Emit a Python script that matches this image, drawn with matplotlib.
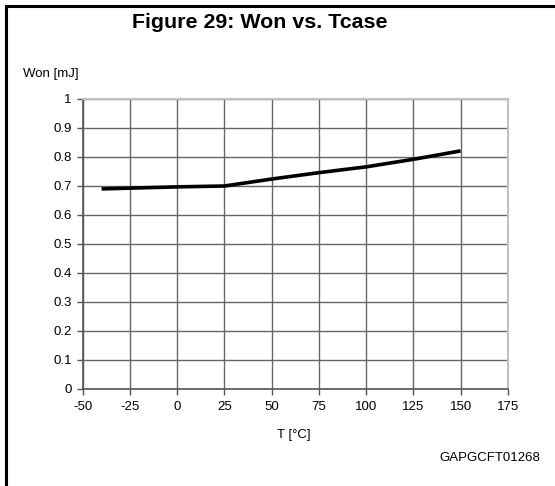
import matplotlib.pyplot as plt
from matplotlib.lines import Line2D

plt.rcParams['font.family'] = ['Liberation Sans', 'DejaVu Sans']

# Data
temp_c = [-40, 0, 25, 50, 75, 100, 125, 150]
won_mj = [0.690, 0.697, 0.700, 0.724, 0.746, 0.766, 0.792, 0.821]

x_ticks = [-50, -25, 0, 25, 50, 75, 100, 125, 150, 175]
y_ticks = [0, 0.1, 0.2, 0.3, 0.4, 0.5, 0.6, 0.7, 0.8, 0.9, 1]

fig = plt.figure(figsize=(5.55, 4.86), dpi=100)
ax = fig.add_axes([0.149, 0.1996, 0.766, 0.5967])

ax.plot(temp_c, won_mj, color='black', linewidth=2.6, solid_capstyle='butt', zorder=3)

ax.set_xlim(-50, 175)
ax.set_ylim(0, 1)
ax.set_xticks(x_ticks)
ax.set_xticklabels([str(v) for v in x_ticks])
ax.set_yticks(y_ticks)
ax.set_yticklabels(['0', '0.1', '0.2', '0.3', '0.4', '0.5', '0.6', '0.7', '0.8', '0.9', '1'])
ax.tick_params(direction='out', length=4, width=1, color='#555555', labelsize=9.5)
ax.tick_params(axis='x', pad=5)
ax.tick_params(axis='y', pad=4)

ax.grid(True, color='#666666', linewidth=1)
ax.set_axisbelow(True)
for side in ['left', 'bottom']:
    ax.spines[side].set_color('#555555')
    ax.spines[side].set_linewidth(1.2)
for side in ['top', 'right']:
    ax.spines[side].set_color('#c0c0c0')
    ax.spines[side].set_linewidth(1.5)

# frame lines (top and left of the boxed figure)
fig.add_artist(Line2D([6 / 555, 6 / 555], [0, 1 - 6 / 486], transform=fig.transFigure,
                      color='black', linewidth=2.2))
fig.add_artist(Line2D([6 / 555, 1], [1 - 6 / 486, 1 - 6 / 486], transform=fig.transFigure,
                      color='black', linewidth=2.2))

fig.text(260 / 555, 1 - 23 / 486, 'Figure 29: Won vs. Tcase', ha='center', va='center',
         fontsize=15.4, fontweight='bold')
fig.text(23 / 555, 1 - 74 / 486, 'Won [mJ]', ha='left', va='center', fontsize=9.5)
fig.text(294 / 555, 1 - 435 / 486, 'T [°C]', ha='center', va='center', fontsize=9.5)
fig.text(540 / 555, 1 - 458 / 486, 'GAPGCFT01268', ha='right', va='center', fontsize=9.5)

fig.savefig('out.png', dpi=100)
